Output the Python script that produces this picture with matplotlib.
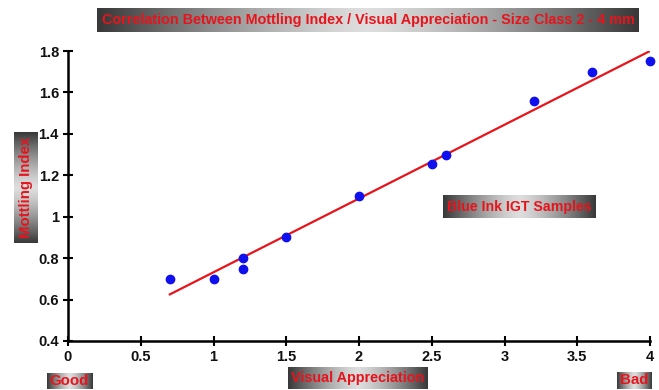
import numpy as np
import matplotlib
matplotlib.use("Agg")
import matplotlib.pyplot as plt

plt.rcParams['font.family'] = ['Liberation Sans', 'DejaVu Sans']

visual = [0.7, 1.0, 1.2, 1.2, 1.5, 2.0, 2.5, 2.6, 3.2, 3.6, 4.0]
mottling = [0.70, 0.70, 0.80, 0.75, 0.90, 1.10, 1.255, 1.30, 1.56, 1.70, 1.75]
fit_x = [0.7, 4.0]
fit_y = [0.625, 1.80]
xticks = [0, 0.5, 1, 1.5, 2, 2.5, 3, 3.5, 4]
xticklabels = ['0', '0.5', '1', '1.5', '2', '2.5', '3', '3.5', '4']
yticks = [0.4, 0.6, 0.8, 1.0, 1.2, 1.4, 1.6, 1.8]
yticklabels = ['0.4', '0.6', '0.8', '1', '1.2', '1.4', '1.6', '1.8']

W, H = 659, 390
fig = plt.figure(figsize=(W / 100, H / 100), dpi=100)
ax = fig.add_axes([68 / W, 1 - 341 / H, (650 - 68) / W, (341 - 51) / H])
ax.plot(fit_x, fit_y, color='#e8141c', lw=1.6, zorder=2)
ax.scatter(visual, mottling, s=36, color='#1010ee', zorder=3)
ax.set_xlim(0, 4)
ax.set_ylim(0.4, 1.8)
ax.set_xticks(xticks)
ax.set_xticklabels(xticklabels)
ax.set_yticks(yticks)
ax.set_yticklabels(yticklabels)
for s in ['top', 'right']:
    ax.spines[s].set_visible(False)
for s in ['left', 'bottom']:
    ax.spines[s].set_linewidth(1.8)
    ax.spines[s].set_color('black')
ax.tick_params(direction='inout', length=7, width=1.5, labelsize=10.5, pad=3)
for lab in ax.get_xticklabels() + ax.get_yticklabels():
    lab.set_fontweight('bold')
    lab.set_color('#111111')
for c in ax.collections:
    c.set_clip_on(False)


def grad_box(x0, y0, x1, y1, text, size, vertical=False):
    a = fig.add_axes([x0 / W, 1 - y1 / H, (x1 - x0) / W, (y1 - y0) / H])
    t = np.linspace(-1, 1, 256)
    g = 0.22 + 0.65 * (1 - np.abs(t) ** 1.3)
    if vertical:
        img = g[:, None] * np.ones((1, 8))
    else:
        img = g[None, :] * np.ones((8, 1))
    a.imshow(img, cmap='gray', vmin=0, vmax=1, aspect='auto',
             extent=[0, 1, 0, 1], interpolation='bilinear')
    a.set_xlim(0, 1)
    a.set_ylim(0, 1)
    a.axis('off')
    a.text(0.5, 0.5, text, ha='center', va='center', color='#e8141c',
           fontsize=size, fontweight='bold', rotation=90 if vertical else 0,
           transform=a.transAxes)


grad_box(97, 8, 639, 32, 'Correlation Between Mottling Index / Visual Appreciation - Size Class 2 - 4 mm', 10.4)
grad_box(14, 132, 38, 243, 'Mottling Index', 10.8, vertical=True)
grad_box(288, 367, 428, 389, 'Visual Appreciation', 10.4)
grad_box(47, 373, 92, 389, 'Good', 10.8)
grad_box(617, 372, 652, 389, 'Bad', 10.8)
grad_box(443, 195, 596, 218, 'Blue Ink IGT Samples', 10.2)

fig.savefig('out.png', dpi=100)
